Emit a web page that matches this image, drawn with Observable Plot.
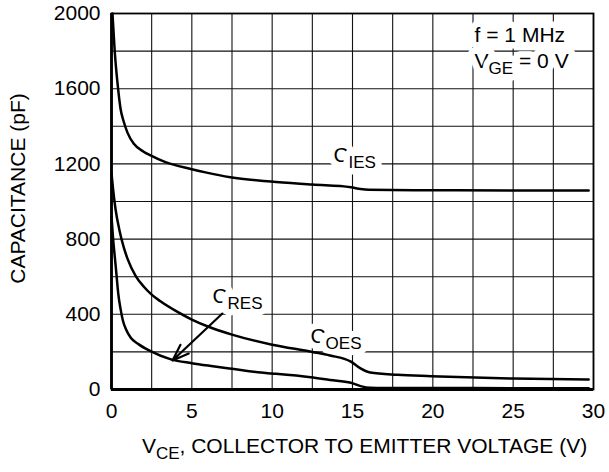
<!DOCTYPE html>
<html>
<head>
<meta charset="utf-8">
<script src="https://cdn.jsdelivr.net/npm/d3@7"></script>
<script src="https://cdn.jsdelivr.net/npm/@observablehq/plot@0.6"></script>
<style>
  html, body { margin: 0; padding: 0; background: #fff; }
</style>
</head>
<body>
<div id="chart"></div>
<script>
// ---- data ----
const xTicks = [0, 5, 10, 15, 20, 25, 30];
const yTicks = [0, 400, 800, 1200, 1600, 2000];
const xGrid = [0, 2.5, 5, 7.5, 10, 12.5, 15, 17.5, 20, 22.5, 25, 27.5, 30];
const yGrid = [0, 200, 400, 600, 800, 1000, 1200, 1400, 1600, 1800, 2000];

const vIES = [0.06, 0.2, 0.41, 0.56, 0.75, 1.0, 1.39, 2.0, 2.43, 3.36, 5.0, 5.85, 7.4, 9.9, 12.5, 14.9, 15.5, 16.0, 20, 25, 29.7];
const cIES = [2000, 1800, 1600, 1495, 1428, 1365, 1307, 1265, 1245, 1209, 1172, 1155, 1129, 1106, 1090, 1076, 1066, 1062, 1060, 1058, 1058];

const vOES = [0, 0.1, 0.25, 0.5, 0.75, 1.0, 1.5, 2.0, 2.5, 3, 4, 5, 6, 7.5, 10, 12.5, 13.6, 14.9, 15.5, 16.1, 17.8, 19.9, 25, 29.7];
const cOES = [1150, 1065, 960, 845, 760, 695, 605, 548, 505, 472, 418, 372, 335, 292, 238, 200, 181, 148, 112, 90, 78, 71, 58, 53];

const vRES = [0, 0.1, 0.2, 0.3, 0.42, 0.56, 0.7, 0.9, 1.2, 1.7, 2.4, 3.7, 5, 6.2, 7.5, 9.3, 10, 12.4, 13.6, 14.9, 15.5, 16.1, 17, 20, 25, 29.7];
const cRES = [920, 800, 710, 620, 510, 430, 370, 320, 275, 240, 205, 160, 140, 125, 110, 90, 85, 65, 51, 36, 18, 9, 8, 8, 7, 7];

const labelText = ["C_{IES}", "C_{OES}", "C_{RES}", "f = 1 MHz", "V_{GE} = 0 V"];
const labelV    = [13.81, 12.38, 6.28, 22.6, 22.6];
const labelC    = [1246, 285, 495, 1883, 1745];

const arrowFrom = [6.9, 404];
const arrowTo   = [3.8, 154];

const xTitle = "V_{CE}, COLLECTOR TO EMITTER VOLTAGE (V)";
const yTitle = "CAPACITANCE (pF)";

// ---- build tables ----
const toRows = (vs, cs) => vs.map((v, i) => ({v, c: cs[i]}));
const ies = toRows(vIES, cIES);
const oes = toRows(vOES, cOES);
const res = toRows(vRES, cRES);
const labels = labelText.map((t, i) => ({t, v: labelV[i], c: labelC[i]}));
const arrows = [{x1: arrowFrom[0], y1: arrowFrom[1], x2: arrowTo[0], y2: arrowTo[1]}];

const curveStyle = {x: "v", y: "c", stroke: "black", strokeWidth: 2.5, curve: "monotone-x"};

const chart = Plot.plot({
  width: 609,
  height: 472,
  marginLeft: 111,
  marginRight: 16,
  marginTop: 13,
  marginBottom: 83,
  style: {fontFamily: "'Liberation Sans', Arial, Helvetica, sans-serif", fontSize: "21px", color: "black", background: "white"},
  x: {domain: [0, 30], ticks: xTicks, tickSize: 0, tickPadding: 14, label: null, tickFormat: d => String(d)},
  y: {domain: [0, 2000], ticks: yTicks, tickSize: 0, tickPadding: 11, label: null, tickFormat: d => String(d)},
  marks: [
    Plot.ruleX(xGrid, {stroke: "#111", strokeWidth: 1.1}),
    Plot.ruleY(yGrid, {stroke: "#111", strokeWidth: 1.1}),
    Plot.text(labels, {x: "v", y: "c", text: "t", textAnchor: "start", fill: "black", stroke: "white", strokeWidth: 13, fontSize: 21}),
    Plot.line(ies, curveStyle),
    Plot.line(oes, curveStyle),
    Plot.line(res, curveStyle),
    Plot.arrow(arrows, {x1: "x1", y1: "y1", x2: "x2", y2: "y2", stroke: "black", strokeWidth: 2.2, headLength: 12, headAngle: 40}),
    Plot.frame({stroke: "black", strokeWidth: 1.8}),
    Plot.ruleX([0], {stroke: "black", strokeWidth: 2.8}),
    Plot.ruleY([0], {stroke: "black", strokeWidth: 2.8}),
    Plot.text([xTitle], {text: d => d, frameAnchor: "bottom", textAnchor: "middle", dx: 12, dy: 63, fontSize: 21}),
    Plot.text([yTitle], {text: d => d, frameAnchor: "left", textAnchor: "middle", rotate: -90, dx: -93, dy: -13, fontSize: 21})
  ]
});

// subscripts: turn "X_{ab}" into X + lowered smaller tspan
const SHIFT = 6, SUBSIZE = 17;
d3.select(chart).selectAll("text").each(function () {
  const s = this.textContent;
  if (!s.includes("_{")) return;
  const el = d3.select(this);
  el.text(null);
  let shifted = false;
  s.split(/(_\{[^}]*\})/).forEach(p => {
    if (!p) return;
    if (p.startsWith("_{")) {
      el.append("tspan").attr("dy", SHIFT).attr("font-size", SUBSIZE).text(p.slice(2, -1));
      shifted = true;
    } else {
      const t = el.append("tspan").text(p);
      if (shifted) { t.attr("dy", -SHIFT); shifted = false; }
    }
  });
});

document.getElementById("chart").appendChild(chart);
</script>
</body>
</html>
